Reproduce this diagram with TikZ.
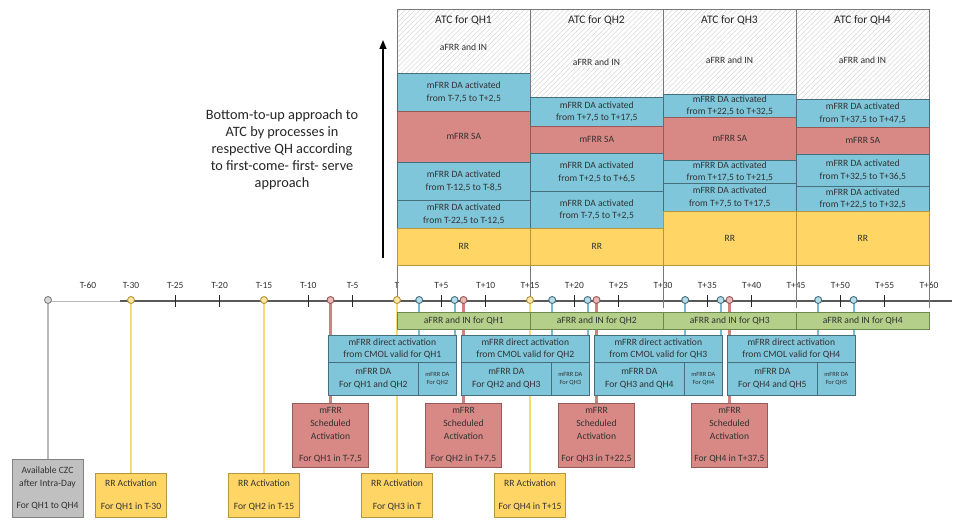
\documentclass[tikz,border=0pt]{standalone}
\usepackage{fontspec}
\setmainfont{Carlito}
\usetikzlibrary{arrows.meta,patterns.meta}
\newcommand\fsz[2]{\fontsize{#1}{#2}\selectfont}
\definecolor{cblue}{RGB}{128,198,218}
\definecolor{bluedge}{RGB}{70,110,125}
\definecolor{bluestem}{RGB}{120,185,205}
\definecolor{cred}{RGB}{216,137,133}
\definecolor{rededge}{RGB}{150,90,88}
\definecolor{redstem}{RGB}{205,130,126}
\definecolor{cyel}{RGB}{255,214,102}
\definecolor{yeledge}{RGB}{180,150,60}
\definecolor{yelstem}{RGB}{245,220,120}
\definecolor{cgreen}{RGB}{180,207,137}
\definecolor{grnedge}{RGB}{110,135,75}
\definecolor{cgray}{RGB}{192,192,192}
\definecolor{grayedge}{RGB}{130,130,130}
\definecolor{graystem}{RGB}{185,185,185}
\definecolor{txt}{RGB}{50,50,50}
\definecolor{colb}{RGB}{120,120,120}
\tikzset{
  seg/.style={draw=colb, line width=0.6pt, minimum width=133pt, inner sep=0pt,
    anchor=north west, align=center, font=\fsz{9.6}{12.5}, text=txt},
  hatchseg/.style={seg, preaction={fill=white},
    pattern={Lines[angle=45,distance=3.5pt,line width=0.35pt]}, pattern color=gray!40},
  daseg/.style={seg, fill=cblue, draw=bluedge},
  saseg/.style={seg, fill=cred, draw=rededge},
  rrseg/.style={seg, fill=cyel, draw=yeledge},
  coltitle/.style={font=\fsz{11.5}{13}, text=txt!80!black},
  collabel/.style={font=\fsz{9.6}{12}, text=txt},
  grnbar/.style={seg, fill=cgreen, draw=grnedge, minimum height=17pt},
  dabox/.style={seg, fill=cblue, draw=bluedge, minimum width=128pt, minimum height=27pt},
  dasub/.style={seg, fill=cblue, draw=bluedge, minimum width=90pt, minimum height=33pt},
  dasmall/.style={seg, fill=cblue, draw=bluedge, minimum width=38pt, minimum height=33pt,
    font=\fsz{6.4}{8}},
  schedbox/.style={draw=rededge, fill=cred, line width=0.6pt, minimum width=76pt,
    minimum height=64pt, anchor=north, inner sep=0pt, align=center,
    font=\fsz{9.6}{12.5}, text=txt},
  rrbox/.style={draw=yeledge, fill=cyel, line width=0.6pt, minimum width=71pt,
    minimum height=44pt, anchor=north, inner sep=0pt, align=center,
    font=\fsz{9.6}{12.5}, text=txt},
  czcbox/.style={draw=grayedge, fill=cgray, line width=0.6pt, minimum width=71pt,
    minimum height=58pt, anchor=north, inner sep=0pt, align=center,
    font=\fsz{9.6}{12.5}, text=txt},
  ticklab/.style={font=\fsz{9.5}{11}, text=txt},
  smalltick/.style={draw=gray!30!black, line width=1pt},
  divider/.style={draw=colb, line width=1pt},
  ystem/.style={draw=yelstem, line width=2.8pt},
  rstem/.style={draw=redstem, line width=2.2pt},
  bstem/.style={draw=bluestem, line width=2pt},
  gstem/.style={draw=graystem, line width=2.8pt},
  ydot/.style={draw=yeledge, fill=cyel!60, line width=0.9pt},
  rdot/.style={draw=rededge, fill=cred!60, line width=0.9pt},
  bdot/.style={draw=bluedge, fill=cblue!60, line width=0.9pt},
  gdot/.style={draw=grayedge, fill=cgray!60, line width=0.9pt},
  uparrow/.style={draw=black, line width=1.6pt, -{Triangle[width=7pt,length=9pt]}},
}
\begin{document}
\begin{tikzpicture}[x=1pt,y=-1pt]
\useasboundingbox (0,0) rectangle (955,519);
\fill[white] (0,0) rectangle (955,519);

% ---------- ATC stacks ----------
% QH1
\node[hatchseg, minimum height=64pt] (h1) at (397,9) {};
\node[daseg, minimum height=38pt] (a1) at (397,73) {mFRR DA activated\\from T-7,5 to T+2,5};
\node[saseg, minimum height=51pt] (s1) at (397,111) {mFRR SA};
\node[daseg, minimum height=38pt] (b1) at (397,162) {mFRR DA activated\\from T-12,5 to T-8,5};
\node[daseg, minimum height=28pt] (c1) at (397,200) {mFRR DA activated\\from T-22,5 to T-12,5};
\node[rrseg, minimum height=37pt] (r1) at (397,228) {RR};
% QH2
\node[hatchseg, minimum height=88pt] (h2) at (530,9) {};
\node[daseg, minimum height=29pt] (a2) at (530,97) {mFRR DA activated\\from T+7,5 to T+17,5};
\node[saseg, minimum height=27pt] (s2) at (530,126) {mFRR SA};
\node[daseg, minimum height=38pt] (b2) at (530,153) {mFRR DA activated\\from T+2,5 to T+6,5};
\node[daseg, minimum height=37pt] (c2) at (530,191) {mFRR DA activated\\from T-7,5 to T+2,5};
\node[rrseg, minimum height=37pt] (r2) at (530,228) {RR};
% QH3
\node[hatchseg, minimum height=85pt] (h3) at (663,9) {};
\node[daseg, minimum height=23pt] (a3) at (663,94) {mFRR DA activated\\from T+22,5 to T+32,5};
\node[saseg, minimum height=43pt] (s3) at (663,117) {mFRR SA};
\node[daseg, minimum height=23pt] (b3) at (663,160) {mFRR DA activated\\from T+17,5 to T+21,5};
\node[daseg, minimum height=28pt] (c3) at (663,183) {mFRR DA activated\\from T+7,5 to T+17,5};
\node[rrseg, minimum height=54pt] (r3) at (663,211) {RR};
% QH4
\node[hatchseg, minimum height=90pt] (h4) at (796,9) {};
\node[daseg, minimum height=28pt] (a4) at (796,99) {mFRR DA activated\\from T+37,5 to T+47,5};
\node[saseg, minimum height=27pt] (s4) at (796,127) {mFRR SA};
\node[daseg, minimum height=32pt] (b4) at (796,154) {mFRR DA activated\\from T+32,5 to T+36,5};
\node[daseg, minimum height=25pt] (c4) at (796,186) {mFRR DA activated\\from T+22,5 to T+32,5};
\node[rrseg, minimum height=54pt] (r4) at (796,211) {RR};

% column titles and top labels
\node[coltitle] (t1) at (463.5,20) {ATC for QH1};
\node[coltitle] (t2) at (596.5,20) {ATC for QH2};
\node[coltitle] (t3) at (729.5,20) {ATC for QH3};
\node[coltitle] (t4) at (862.5,20) {ATC for QH4};
\node[collabel] (f1) at (463.5,47) {aFRR and IN};
\node[collabel] (f2) at (596.5,62) {aFRR and IN};
\node[collabel] (f3) at (729.5,60) {aFRR and IN};
\node[collabel] (f4) at (862.5,60) {aFRR and IN};

% bottom-up arrow and explanation
\coordinate (arrS) at (383,258);
\coordinate (arrE) at (383,40);
\draw[uparrow] (arrS) -- (arrE);
\node[align=center, font=\fsz{14.3}{17}, text=black!85] (note) at (282,150)
  {Bottom-to-up approach to\\ATC by processes in\\respective QH according\\to first-come- first- serve\\approach};

% ---------- timeline ----------
\coordinate (tl0) at (48,301);
\coordinate (tl1) at (120,301);
\coordinate (tl2) at (952,301);
\draw[gray!55, line width=0.9pt] (tl0) -- (tl1);
\draw[gray!70!black, line width=1.1pt] (tl1) -- (tl2);

\node[ticklab] (lab60) at (88,285) {T-60};
\foreach \m/\lab [count=\i] in {-30/T-30,-25/T-25,-20/T-20,-15/T-15,-10/T-10,-5/T-5,0/T,
    5/T+5,10/T+10,15/T+15,20/T+20,25/T+25,30/T+30,35/T+35,40/T+40,45/T+45,50/T+50,55/T+55,60/T+60}
  \node[ticklab] (lab\i) at ({397+8.8667*\m},285) {\lab};
\foreach \m in {-25,-20,-10,-5,5,10,20,25,35,40,50,55}
  \draw[smalltick] ({397+8.8667*\m},295) -- ++(0,12);
% column dividers carried down to the timeline
\foreach \c/\n in {r1/south west, r2/south west, r3/south west, r4/south west, r4/south east}
  \draw[divider] (\c.\n) -- ++(0,42);

% event points on the timeline
\coordinate (gev) at (48,300);
\coordinate (y1) at (131,300);
\coordinate (y2) at (264,300);
\coordinate (y3) at (397,300);
\coordinate (y4) at (530,300);
\coordinate (rd1) at (330.5,300);
\coordinate (rd2) at (463.5,300);
\coordinate (rd3) at (596.5,300);
\coordinate (rd4) at (729.5,300);
\coordinate (bA1) at (419.2,300);
\coordinate (bB1) at (454.6,300);
\coordinate (bA2) at (552.2,300);
\coordinate (bB2) at (587.6,300);
\coordinate (bA3) at (685.2,300);
\coordinate (bB3) at (720.6,300);
\coordinate (bA4) at (818.2,300);
\coordinate (bB4) at (853.6,300);

% ---------- activation boxes ----------
\node[czcbox] (czc) at (47.5,459) {Available CZC\\after Intra-Day\\[10pt]For QH1 to QH4};
\node[rrbox] (rra1) at (131,473) {RR Activation\\[10pt]For QH1 in T-30};
\node[rrbox] (rra2) at (264,473) {RR Activation\\[10pt]For QH2 in T-15};
\node[rrbox] (rra3) at (397,473) {RR Activation\\[10pt]For QH3 in T};
\node[rrbox] (rra4) at (530,473) {RR Activation\\[10pt]For QH4 in T+15};
\node[schedbox] (sch1) at (330.5,403) {mFRR\\Scheduled\\Activation\\[10pt]For QH1 in T-7,5};
\node[schedbox] (sch2) at (463.5,403) {mFRR\\Scheduled\\Activation\\[10pt]For QH2 in T+7,5};
\node[schedbox] (sch3) at (596.5,403) {mFRR\\Scheduled\\Activation\\[10pt]For QH3 in T+22,5};
\node[schedbox] (sch4) at (729.5,403) {mFRR\\Scheduled\\Activation\\[10pt]For QH4 in T+37,5};

% stems from the timeline to the boxes (drawn before the blue boxes cover them)
\draw[gstem] (gev) -- (gev |- czc.north);
\foreach \i in {1,2,3,4} {
  \draw[ystem] (y\i) -- (y\i |- rra\i.north);
  \draw[rstem] (rd\i) -- (rd\i |- sch\i.north);
  \draw[bstem] (bA\i) -- (bA\i |- 0,335);
  \draw[bstem] (bB\i) -- (bB\i |- 0,335);
}

% blue direct-activation boxes
\node[dabox] (dt1) at (328,335) {mFRR direct activation\\from CMOL valid for QH1};
\node[dasub] (dl1) at (328,362) {mFRR DA\\For QH1 and QH2};
\node[dasmall] (ds1) at (418,362) {mFRR DA\\For QH2};
\node[dabox] (dt2) at (461,335) {mFRR direct activation\\from CMOL valid for QH2};
\node[dasub] (dl2) at (461,362) {mFRR DA\\For QH2 and QH3};
\node[dasmall] (ds2) at (551,362) {mFRR DA\\For QH3};
\node[dabox] (dt3) at (594,335) {mFRR direct activation\\from CMOL valid for QH3};
\node[dasub] (dl3) at (594,362) {mFRR DA\\For QH3 and QH4};
\node[dasmall] (ds3) at (684,362) {mFRR DA\\For QH4};
\node[dabox] (dt4) at (727,335) {mFRR direct activation\\from CMOL valid for QH4};
\node[dasub] (dl4) at (727,362) {mFRR DA\\For QH4 and QH5};
\node[dasmall] (ds4) at (817,362) {mFRR DA\\For QH5};

% green aFRR/IN bar
\node[grnbar] (g1) at (397,312) {aFRR and IN for QH1};
\node[grnbar] (g2) at (530,312) {aFRR and IN for QH2};
\node[grnbar] (g3) at (663,312) {aFRR and IN for QH3};
\node[grnbar] (g4) at (796,312) {aFRR and IN for QH4};

% event markers
\draw[gdot] (gev) circle (3.5);
\foreach \i in {1,2,3,4} {
  \draw[ydot] (y\i) circle (3.5);
  \draw[rdot] (rd\i) circle (3.5);
  \draw[bdot] (bA\i) circle (3.5);
  \draw[bdot] (bB\i) circle (3.5);
}
\end{tikzpicture}
\end{document}
